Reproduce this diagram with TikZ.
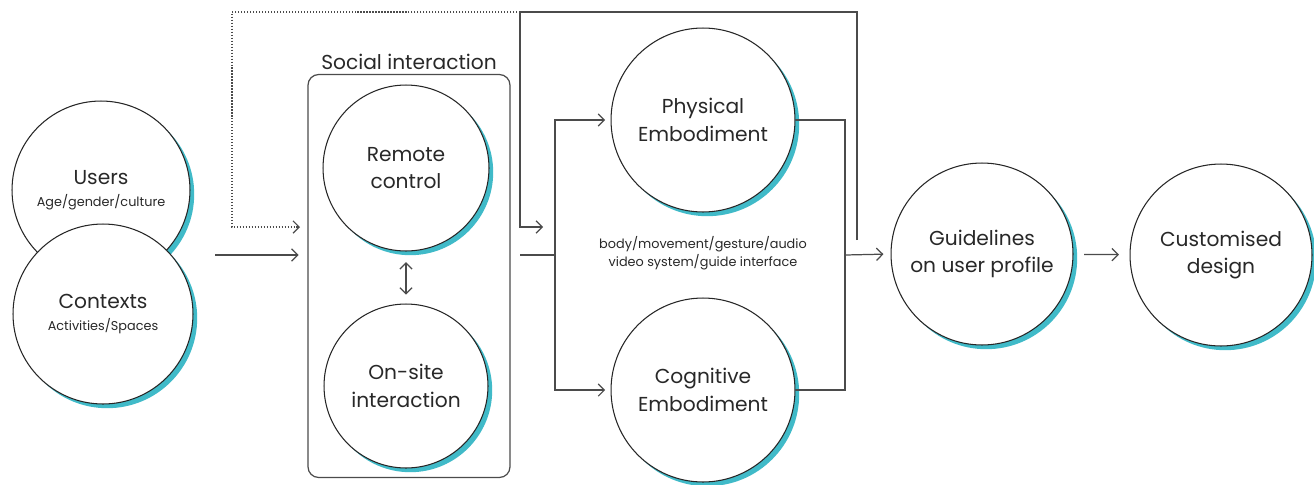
\documentclass[tikz,border=0pt]{standalone}
\usepackage{fontspec}
\setmainfont{Poppins}
\usepackage{tikz}
\usetikzlibrary{arrows.meta,shadows,positioning}
\usepackage{xcolor}
\definecolor{dfteal}{RGB}{64,186,200}
\definecolor{dfgray}{RGB}{75,75,75}
\definecolor{dftext}{RGB}{40,40,40}
\tikzstyle{bubble} = [circle, draw=black!85, line width=0.6pt, fill=white, align=center,
  text=dftext, font=\fontsize{11.5}{15.5}\selectfont,
  drop shadow={shadow xshift=2.4pt, shadow yshift=-2.4pt, fill=dfteal, opacity=1}]
\tikzstyle{link} = [line width=0.7pt, color=dfgray]
\tikzstyle{arrow} = [link,->,>={Straight Barb[length=3.5pt,width=7pt]}]

\begin{document}
\begin{tikzpicture}[x=0.02cm, y=-0.02cm]
\useasboundingbox (0,0) rectangle (1314,484);
% user side
\node[bubble, minimum size=3.56cm] (users) at (101,190) {Users\\[-3pt]{\fontsize{7.3}{8}\selectfont Age/gender/culture}};
\node[bubble, minimum size=3.6cm] (contexts) at (103,314) {Contexts\\[-3pt]{\fontsize{7.3}{8}\selectfont Activities/Spaces}};

% social interaction box
\node[draw=dfgray, line width=0.7pt, rounded corners=6pt, minimum width=4.04cm, minimum height=8.06cm] (social) at (409,276) {};
\node[text=dftext, font=\fontsize{11.5}{13}\selectfont, above=-1pt of social.north] (socialtitle) {Social interaction};
\node[bubble, minimum size=3.32cm] (remote) at (406,168) {Remote\\control};
\node[bubble, minimum size=3.28cm] (onsite) at (406,386) {On-site\\interaction};
\draw[arrow,<->,shorten <=6pt,shorten >=5pt] (remote) -- (onsite);

% embodiment
\node[bubble, minimum size=3.68cm] (physical) at (703,120) {Physical\\Embodiment};
\node[bubble, minimum size=3.68cm] (cognitive) at (703,390) {Cognitive\\Embodiment};
\node[text=dftext, font=\fontsize{7.3}{10}\selectfont, align=center] (modes) at (703,253) {body/movement/gesture/audio\\video system/guide interface};

% outcome
\node[bubble, minimum size=3.64cm] (guide) at (982,254) {Guidelines\\on user profile};
\node[bubble, minimum size=3.64cm] (custom) at (1221,255) {Customised\\design};

% connectors
\coordinate (input) at (215,255);
\coordinate (split) at (555,255);
\coordinate (merge) at (845,255);
\draw[arrow, shorten >=5pt] (input) -- (input -| social.west);
\draw[link] (520,255) -- (split);
\draw[arrow, shorten >=3pt] (split) |- (physical.west);
\draw[arrow, shorten >=3pt] (split) |- (cognitive.west);
\draw[link] (physical.east) -| (merge) |- (cognitive.east);
\draw[arrow, shorten >=4pt] (merge) -- (guide.west);
\draw[arrow, shorten <=6pt, shorten >=6pt] (guide) -- (custom);

% feedback loop
\draw[link] (857,240) -- (857,12) -- (520,12);
\draw[arrow] (520,12) -- (520,227) -- (543,227);
\draw[arrow, densely dotted] (520,12) -- (232,12) -- (232,227) -- (300,227);
\end{tikzpicture}
\end{document}
